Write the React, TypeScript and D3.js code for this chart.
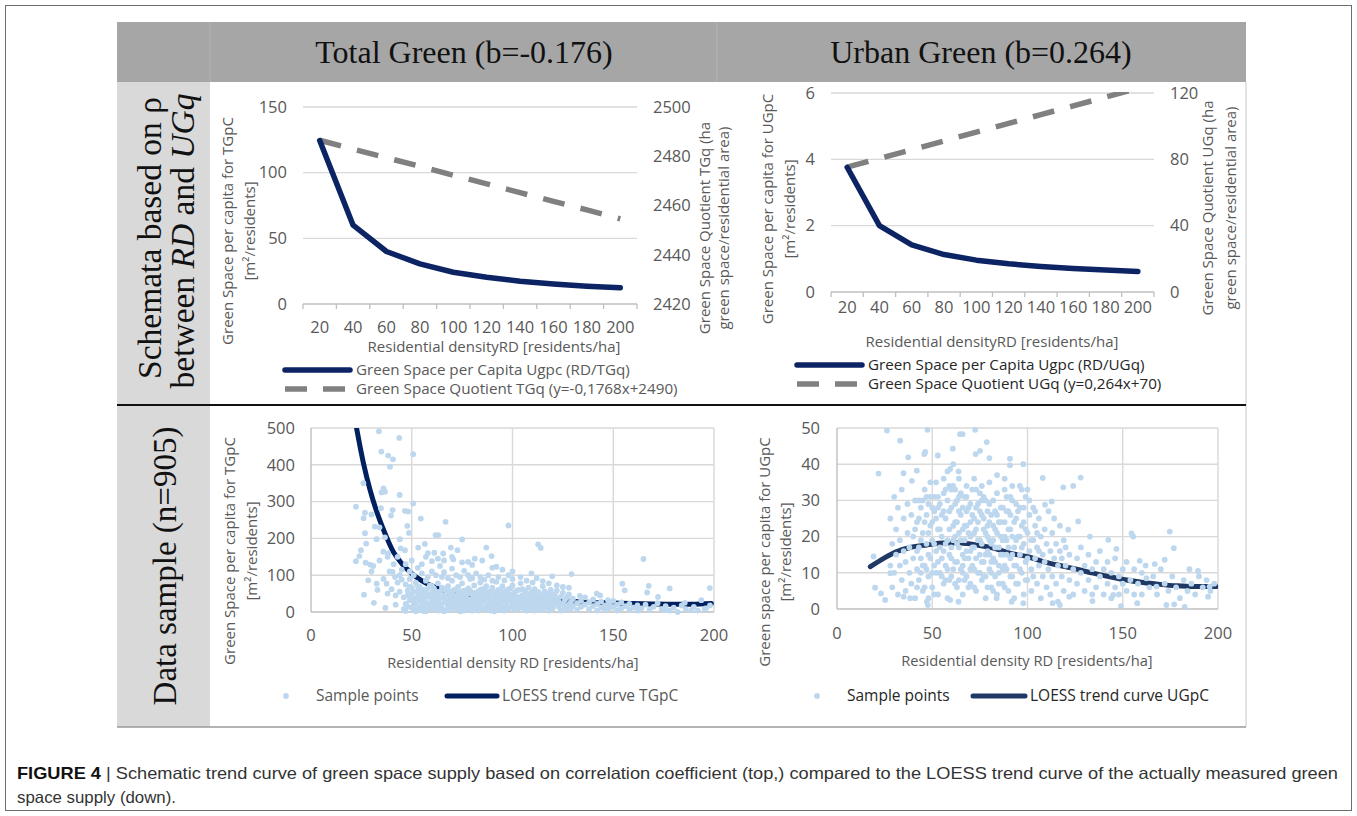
import * as d3 from 'd3';

// top row: schematic curves (category axis 20..200)
const categories = [20, 40, 60, 80, 100, 120, 140, 160, 180, 200];
const totalUgpc = [124.5, 60, 40, 30.5, 24.2, 20.3, 17.4, 15.3, 13.6, 12.4];
const totalTGq = [2486.5, 2482.9, 2479.4, 2475.9, 2472.3, 2468.8, 2465.2, 2461.7, 2458.2, 2454.6];
const urbanUgpc = [3.76, 2.0, 1.42, 1.13, 0.96, 0.85, 0.77, 0.71, 0.66, 0.62];
const urbanUGq = [75.3, 80.6, 85.8, 91.1, 96.4, 101.7, 107.0, 112.2, 117.5, 122.8];

const totalLeftTicks = [0, 50, 100, 150];
const totalRightTicks = [2420, 2440, 2460, 2480, 2500];
const urbanLeftTicks = [0, 2, 4, 6];
const urbanRightTicks = [0, 40, 80, 120];

// bottom row: LOESS curves
const tgpcLoess: [number, number][] = [
  [22.6, 500], [26, 405], [29.3, 332], [32.6, 273], [36.7, 214], [40.8, 164], [45, 132], [49.9, 105],
  [54.9, 85], [63.1, 64], [71.4, 52], [79.7, 45], [89.6, 41], [99.5, 39], [109.4, 36], [119.3, 32],
  [129.3, 29], [139.2, 26], [149, 24.5], [159, 23], [169, 22], [178.8, 21], [188.8, 21], [198.7, 23],
];
const ugpcLoess: [number, number][] = [
  [17.5, 11.7], [24.5, 14], [31.4, 15.9], [38.4, 17], [47.2, 17.7], [55.9, 18.2], [64.6, 18.2],
  [73.4, 17.7], [82.1, 16.8], [90.8, 15.4], [99.6, 14.5], [108.3, 13.1], [117, 12], [125.8, 11],
  [134.5, 9.9], [143.2, 8.9], [152, 8], [160.7, 7.3], [169.4, 6.8], [178.2, 6.4], [186.9, 6.2], [199, 6.2],
];

const tgpcSamples: [number, number][] = [
  [33.7, 491], [43.8, 473], [50.7, 429], [34.9, 436], [38.3, 425], [40.7, 415], [39.2, 395], [26, 350],
  [36, 336], [36.7, 327], [35, 325], [44, 318], [22.3, 286], [34.7, 282], [40.5, 277], [26.8, 270],
  [30, 265], [39.7, 262], [26.1, 255], [46.6, 275], [48.3, 273], [50.7, 295], [54.5, 254], [66.8, 245],
  [98, 235], [31.7, 232], [34, 230], [47.8, 234], [48.6, 215], [26.8, 214], [32.6, 198], [27.4, 186],
  [44.1, 198], [36.7, 203], [61.8, 209], [63.2, 209], [75, 197], [87, 175], [112.7, 184], [114, 174],
  [165, 144], [24.8, 168], [24, 152], [22.3, 138], [27.1, 134], [29.3, 129], [30.9, 125], [35.9, 164],
  [38.3, 159], [44.5, 173], [46.6, 168], [56.5, 185], [53.2, 175], [61.2, 161], [65.6, 159], [69.4, 175],
  [72.7, 168], [70.6, 143], [78, 136], [81.3, 145], [89.6, 152], [92, 123], [28.4, 86], [26.3, 47],
  [31.2, 25], [36.9, 11], [32.6, 77], [37.5, 77], [40.5, 109], [41.7, 95], [109.4, 105], [119.7, 97],
  [129.3, 103], [167.6, 71], [154.5, 77], [178, 64], [197.9, 65], [166.8, 53], [155.7, 59], [141.8, 50],
  [143.5, 45], [133.4, 44], [147.4, 32], [172.2, 41], [193.7, 32], [185.5, 25], [176.4, 5], [182, 0],
  [188.8, 5], [195.4, 9],
  [40, 62], [42, 45], [41, 130], [43, 80], [44, 100], [42, 20], [44, 55], [45, 88], [43, 150], [39, 110],
  [38, 50], [36, 90], [34, 140], [33, 60], [30, 110], [38, 150], [45, 115], [47, 130], [49, 110], [51, 100],
  [53, 120], [55, 105], [58, 95], [60, 110], [62, 100], [64, 125], [66, 108], [68, 92], [70, 118], [72, 100],
  [74, 95], [76, 112], [78, 100], [80, 92], [82, 105], [84, 95], [86, 88], [88, 100], [90, 85], [93, 95],
  [96, 86], [98, 100], [100, 90], [104, 95], [107, 85], [110, 80], [112, 92], [115, 84], [118, 78], [122, 72],
  [125, 68], [128, 66], [50, 140], [55, 130], [57, 150], [60, 138], [63, 145], [58, 160], [66, 140], [70, 150],
  [75, 135], [80, 128], [85, 140], [90, 120], [95, 115], [100, 110],
  [46, 8], [47, 22], [46, 40], [48, 58], [47, 75], [49, 90], [48, 15], [49, 32], [50, 48], [50, 66],
  [51, 5], [51, 25], [52, 38], [52, 80], [53, 12], [53, 55], [54, 30], [54, 68], [55, 45], [55, 18],
  [56, 3], [56, 60], [57, 28], [57, 85], [58, 10], [58, 42], [59, 72], [59, 22], [60, 52], [60, 35],
  [61, 8], [61, 64], [62, 18], [62, 45], [63, 78], [63, 30], [64, 55], [64, 12], [65, 40], [65, 95],
  [66, 25], [66, 62], [67, 5], [67, 48], [68, 33], [68, 70], [69, 15], [69, 56], [70, 38], [70, 85],
  [71, 22], [71, 60], [72, 8], [72, 44], [73, 30], [73, 68], [74, 52], [74, 16], [75, 36], [75, 78],
  [76, 4], [76, 58], [77, 26], [77, 45], [78, 12], [78, 64], [79, 34], [79, 90], [80, 20], [80, 50],
  [81, 40], [81, 72], [82, 8], [82, 30], [83, 56], [83, 18], [84, 44], [84, 80], [85, 28], [85, 62],
  [86, 10], [86, 48], [87, 36], [87, 70], [88, 20], [88, 54], [89, 4], [89, 42], [90, 30], [90, 66],
  [91, 14], [91, 52], [92, 38], [92, 82], [93, 24], [93, 60], [94, 6], [94, 46], [95, 32], [95, 70],
  [96, 16], [96, 54], [97, 40], [97, 26], [98, 8], [98, 62], [99, 34], [99, 48], [100, 18], [100, 72],
  [101, 28], [101, 52], [102, 6], [102, 40], [103, 60], [103, 20], [104, 32], [104, 78], [105, 12], [105, 46],
  [106, 26], [106, 58], [107, 38], [107, 4], [108, 18], [108, 66], [109, 30], [109, 50], [110, 10], [110, 42],
  [111, 24], [111, 62], [112, 36], [112, 14], [113, 54], [113, 28], [114, 6], [114, 44], [115, 20], [115, 70],
  [116, 34], [116, 12], [117, 50], [117, 26], [118, 40], [118, 4], [119, 18], [119, 60], [120, 30], [120, 10],
  [121, 46], [121, 22], [122, 36], [122, 58], [123, 14], [123, 28], [124, 4], [124, 42], [125, 22], [125, 52],
  [126, 12], [126, 32], [127, 40], [127, 6], [128, 20], [128, 48], [129, 28], [129, 10], [130, 36], [130, 16],
  [132, 24], [132, 6], [134, 30], [134, 14], [136, 20], [136, 40], [138, 8], [138, 26], [140, 16], [140, 34],
  [142, 4], [142, 22], [144, 12], [144, 28], [146, 18], [146, 6], [148, 24], [148, 10], [150, 14], [150, 30],
  [152, 4], [152, 20], [154, 10], [154, 26], [156, 16], [158, 6], [158, 22], [160, 12], [162, 18], [162, 4],
  [164, 10], [166, 20], [168, 6], [170, 14], [172, 24], [174, 8], [176, 16], [178, 4], [180, 12], [184, 18],
  [186, 8], [190, 14], [192, 4], [196, 10], [198, 18],
  [47, 3], [48, 45], [49, 68], [50, 12], [50, 35], [51, 55], [52, 22], [52, 2], [53, 42], [53, 70],
  [54, 6], [54, 50], [55, 32], [55, 60], [56, 14], [56, 42], [57, 52], [57, 2], [58, 20], [58, 64],
  [59, 8], [59, 46], [60, 26], [60, 70], [61, 40], [61, 16], [62, 56], [62, 30], [63, 4], [63, 50],
  [64, 22], [64, 38], [65, 10], [65, 66], [66, 44], [66, 2], [67, 30], [67, 58], [68, 18], [68, 48],
  [69, 36], [69, 6], [70, 26], [70, 54], [71, 12], [71, 42], [72, 32], [72, 62], [73, 18], [73, 50],
  [74, 2], [74, 38], [75, 24], [75, 56], [76, 14], [76, 44], [77, 34], [77, 6], [78, 28], [78, 50],
  [79, 10], [79, 58], [80, 36], [80, 4], [81, 24], [81, 52], [82, 16], [82, 44], [83, 32], [83, 4],
  [84, 20], [84, 60], [85, 8], [85, 40], [86, 30], [86, 58], [87, 16], [87, 48], [88, 6], [88, 38],
  [89, 26], [89, 56], [90, 12], [90, 44], [91, 34], [91, 2], [92, 22], [92, 54], [93, 10], [93, 40],
  [94, 28], [94, 60], [95, 14], [95, 48], [96, 4], [96, 36], [97, 22], [97, 58], [98, 30], [98, 44],
  [99, 12], [99, 64], [100, 26], [100, 40], [101, 8], [101, 46], [102, 22], [102, 58], [103, 32], [103, 10],
  [104, 42], [104, 18], [105, 28], [105, 62], [106, 6], [106, 40], [107, 22], [107, 50], [108, 32], [108, 8],
  [109, 42], [109, 16], [110, 28], [110, 56], [111, 4], [111, 38], [112, 22], [112, 48], [113, 12], [113, 40],
  [114, 30], [114, 18], [115, 8], [115, 46], [116, 24], [116, 56], [117, 14], [117, 36], [118, 28], [118, 50],
  [119, 8], [119, 38], [120, 20], [120, 48],
];

const ugpcSamples: [number, number][] = [
  [26.2, 49.3], [47.5, 49.5], [72.5, 49.5], [64.6, 48.3], [65.9, 48.3], [21.8, 37.4], [33.2, 46.5],
  [46.3, 43.4], [45.8, 42.8], [52.9, 42.4], [60.8, 44.3], [72.8, 42.8], [75.1, 43.7], [78.6, 46.1],
  [80, 41.7], [90.8, 41.5], [90.8, 39.7], [97.8, 40], [37.4, 41.9], [34.9, 37.5], [41.9, 38.2],
  [39.3, 35.4], [59.4, 38.7], [63.8, 38], [108, 36.2], [127.9, 36.3], [124, 34], [118.8, 33.6],
  [112.7, 29.7], [109.2, 28.8], [126.6, 24.2], [121.4, 21.9], [154.6, 20.9], [155.5, 20], [174.7, 21.4],
  [176.8, 16.8], [146.7, 16.6], [142.4, 19.1], [132.8, 20], [185, 11], [189.5, 10.5], [182.5, 0.6],
  [177, 1.3], [172.9, 1.1], [157.6, 1.6], [149, 0.8], [194.8, 3.4], [172, 13.6], [166.8, 12.4],
  [158.9, 13.3], [162.4, 8.5], [167.7, 6.2], [195.6, 6.2], [20, 5.9], [23.1, 4.3], [25.3, 2.5],
  [19.2, 14.5], [28, 9.9], [38.4, 3], [35, 3.4], [47.7, 1.1], [47.2, 2], [59.4, 2.5], [63.8, 2],
  [83.8, 3], [91.7, 2], [97.8, 1.6], [113.2, 1.6], [117, 1.1], [121.9, 3.4], [134.1, 2.2], [145, 3.9],
  [28, 12], [28, 25], [29, 6], [29, 18], [30, 31], [30, 10], [31, 15], [31, 22], [32, 4], [32, 28],
  [33, 12], [33, 19], [34, 8], [34, 33], [35, 16], [35, 25], [36, 5], [36, 13], [37, 21], [37, 29],
  [38, 10], [38, 17], [39, 26], [39, 7], [40, 14], [40, 20], [41, 3], [41, 30], [42, 11], [42, 24],
  [43, 17], [43, 8], [44, 28], [44, 14], [45, 5], [45, 21], [46, 33], [46, 12], [47, 18], [47, 26],
  [48, 9], [48, 15], [49, 23], [49, 31], [50, 6], [50, 19], [51, 12], [51, 27], [52, 16], [52, 35],
  [53, 4], [53, 22], [54, 10], [54, 29], [55, 14], [55, 20], [56, 7], [56, 32], [57, 18], [57, 25],
  [58, 11], [58, 3], [59, 22], [59, 15], [60, 28], [60, 9], [61, 19], [61, 34], [62, 13], [62, 24],
  [63, 6], [63, 30], [64, 17], [64, 21], [65, 11], [65, 26], [66, 4], [66, 15], [67, 31], [67, 19],
  [68, 9], [68, 23], [69, 14], [69, 28], [70, 7], [70, 20], [71, 33], [71, 12], [72, 17], [72, 25],
  [73, 5], [73, 22], [74, 29], [74, 10], [75, 15], [75, 19], [76, 26], [76, 8], [77, 13], [77, 31],
  [78, 21], [78, 3], [79, 16], [79, 27], [80, 11], [80, 24], [81, 6], [81, 18], [82, 30], [82, 14],
  [83, 9], [83, 22], [84, 26], [84, 4], [85, 17], [85, 12], [86, 28], [86, 20], [87, 7], [87, 15],
  [88, 24], [88, 33], [89, 11], [89, 19], [90, 5], [90, 27], [91, 14], [91, 22], [92, 9], [92, 30],
  [93, 17], [93, 3], [94, 25], [94, 12], [95, 20], [95, 7], [96, 15], [96, 28], [97, 10], [97, 23],
  [98, 18], [98, 4], [99, 13], [99, 31], [100, 21], [100, 8], [101, 16], [101, 26], [102, 11], [102, 5],
  [103, 19], [103, 28], [104, 14], [104, 23], [105, 7], [105, 17], [106, 12], [106, 25], [107, 3], [107, 20],
  [108, 15], [108, 9], [109, 22], [109, 13], [110, 6], [110, 18], [111, 27], [111, 11], [112, 16], [112, 4],
  [113, 21], [113, 9], [114, 14], [114, 25], [115, 7], [115, 18], [116, 12], [116, 2], [117, 16], [117, 23],
  [118, 9], [118, 14], [119, 19], [119, 5], [120, 12], [120, 17], [122, 8], [122, 15], [124, 11], [124, 4],
  [126, 14], [126, 7], [128, 10], [128, 17], [130, 5], [130, 12], [132, 15], [132, 8], [134, 4], [134, 11],
  [136, 13], [136, 6], [138, 9], [138, 16], [140, 4], [140, 11], [142, 7], [142, 13], [144, 10], [144, 3],
  [146, 6], [146, 14], [148, 9], [148, 4], [150, 11], [150, 7], [152, 5], [152, 13], [154, 8], [156, 11],
  [156, 4], [158, 7], [160, 10], [160, 4], [162, 12], [164, 6], [166, 9], [168, 4], [170, 11], [172, 7],
  [174, 5], [176, 9], [178, 6], [180, 3], [182, 8], [184, 5], [186, 7], [188, 4], [190, 9], [192, 6],
  [194, 8], [196, 5], [198, 7],
  [50, 24], [52, 10], [54, 17], [55, 26], [57, 8], [58, 30], [60, 14], [61, 23], [62, 7], [63, 18],
  [64, 27], [65, 32], [66, 10], [66, 22], [67, 14], [68, 27], [69, 6], [70, 16], [70, 24], [72, 11],
  [73, 28], [74, 19], [75, 32], [76, 13], [77, 22], [78, 9], [79, 20], [80, 29], [81, 13], [82, 23],
  [83, 17], [84, 32], [85, 7], [86, 24], [87, 19], [88, 12], [89, 27], [90, 17], [91, 31], [92, 20],
  [93, 12], [94, 29], [96, 20], [97, 33], [98, 24], [45, 30], [44, 10], [43, 25], [42, 16], [41, 22],
  [48, 29], [47, 11], [49, 35], [51, 31], [53, 28], [56, 36], [59, 34], [62, 33], [64, 36], [68, 34],
  [72, 36], [76, 34], [80, 35], [84, 37], [88, 36], [92, 34], [96, 34], [100, 33], [58, 38], [61, 40],
  [42, 6], [43, 30], [44, 19], [45, 12], [46, 24], [46, 6], [47, 31], [48, 21], [48, 3], [49, 14],
  [50, 28], [50, 10], [51, 18], [51, 4], [52, 25], [53, 13], [53, 31], [54, 22], [55, 9], [56, 16],
  [56, 27], [57, 12], [57, 33], [58, 19], [59, 8], [59, 27], [60, 17], [60, 33], [61, 11], [62, 20],
  [62, 29], [63, 13], [63, 24], [64, 8], [64, 31], [65, 19], [66, 12], [66, 28], [67, 23], [67, 8],
  [68, 16], [68, 31], [69, 21], [70, 11], [70, 29], [71, 17], [71, 26], [72, 6], [72, 21], [73, 14],
  [73, 33], [74, 24], [75, 10], [75, 27], [76, 18], [76, 30], [77, 9], [77, 25], [78, 15], [78, 30],
  [79, 6], [79, 23], [80, 15], [80, 19], [81, 26], [81, 10], [82, 19], [82, 5], [83, 27], [83, 13],
  [84, 21], [85, 10], [85, 24], [86, 15], [87, 28], [87, 11], [88, 20], [88, 6], [89, 15], [89, 31],
  [90, 22], [91, 9], [91, 26], [92, 15], [93, 24], [94, 7], [94, 19], [95, 27], [96, 11], [97, 17],
  [98, 28], [99, 8], [99, 22], [100, 14], [101, 30], [102, 19], [103, 9], [104, 27], [105, 21], [106, 16],
];

const FONT = "'Open Sans', 'DejaVu Sans', sans-serif";
const SERIF = "'Liberation Serif', 'Times New Roman', serif";
const AXIS_GREY = '#595959';
const GRID = '#d9d9d9';
const NAVY = '#0c2463';
const DASH_GREY = '#808080';
const POINT = '#bdd7ee';

type SchemaProps = {
  id: string;
  xRange: [number, number];
  yRange: [number, number];
  leftValues: number[];
  rightValues: number[];
  leftTicks: number[];
  rightTicks: number[];
  leftTitle: [string, string];
  rightTitle: [string, string];
  leftTitleX: [number, number];
  rightTitleX: [number, number];
  leftTitleY: number;
  rightTitleY: number;
  leftLabelX: number;
  rightLabelX: number;
  tickLabelY: number;
  xTitle: string;
  xTitlePos: [number, number];
  legendX: number;
  legendY: [number, number];
  legendLabels: [string, string];
  legendColor: string;
};

function SchemaChart(props: SchemaProps) {
  const x = d3.scaleBand<number>().domain(categories).range(props.xRange).padding(0);
  const yLeft = d3.scaleLinear().domain(d3.extent(props.leftTicks) as [number, number]).range(props.yRange);
  const yRight = d3.scaleLinear().domain(d3.extent(props.rightTicks) as [number, number]).range(props.yRange);
  const cx = (c: number) => (x(c) ?? 0) + x.bandwidth() / 2;

  const leftLine = d3
    .line<number>()
    .x((_, i) => cx(categories[i]))
    .y((d) => yLeft(d));
  const rightLine = d3
    .line<number>()
    .x((_, i) => cx(categories[i]))
    .y((d) => yRight(d));

  const boundaries = [...categories.map((c) => x(c) ?? 0), props.xRange[1]];
  const [y0, y1] = props.yRange;

  return (
    <g fontFamily={FONT}>
      <defs>
        <clipPath id={props.id}>
          <rect x={props.xRange[0]} y={y1 - 1} width={props.xRange[1] - props.xRange[0]} height={y0 - y1 + 10} />
        </clipPath>
      </defs>
      {props.leftTicks.slice(1).map((t) => (
        <line key={t} x1={props.xRange[0]} x2={props.xRange[1]} y1={yLeft(t)} y2={yLeft(t)} stroke={GRID} strokeWidth={1.3} />
      ))}
      <line x1={props.xRange[0]} x2={props.xRange[1]} y1={y0} y2={y0} stroke="#bfbfbf" strokeWidth={1.3} />
      {boundaries.map((b, i) => (
        <line key={i} x1={b} x2={b} y1={y0} y2={y0 + 5} stroke="#bfbfbf" strokeWidth={1.3} />
      ))}
      {props.leftTicks.map((t) => (
        <text key={t} x={props.leftLabelX} y={yLeft(t)} dy="0.35em" textAnchor="end" fontSize={16.5} fill={AXIS_GREY}>
          {t}
        </text>
      ))}
      {props.rightTicks.map((t) => (
        <text key={t} x={props.rightLabelX} y={yRight(t)} dy="0.35em" fontSize={16.5} fill={AXIS_GREY}>
          {t}
        </text>
      ))}
      {categories.map((c) => (
        <text key={c} x={cx(c)} y={props.tickLabelY} dy="0.35em" textAnchor="middle" fontSize={16.5} fill={AXIS_GREY}>
          {c}
        </text>
      ))}
      <text x={props.xTitlePos[0]} y={props.xTitlePos[1]} dy="0.35em" textAnchor="middle" fontSize={15} fill={AXIS_GREY}>
        {props.xTitle}
      </text>
      {props.leftTitle.map((t, i) => (
        <text
          key={t}
          transform={`translate(${props.leftTitleX[i]},${props.leftTitleY}) rotate(-90)`}
          dy="0.35em"
          textAnchor="middle"
          fontSize={15}
          fill={AXIS_GREY}
        >
          {t}
        </text>
      ))}
      {props.rightTitle.map((t, i) => (
        <text
          key={t}
          transform={`translate(${props.rightTitleX[i]},${props.rightTitleY}) rotate(-90)`}
          dy="0.35em"
          textAnchor="middle"
          fontSize={15}
          fill={AXIS_GREY}
        >
          {t}
        </text>
      ))}
      <g clipPath={`url(#${props.id})`}>
        <path d={rightLine(props.rightValues) ?? ''} fill="none" stroke={DASH_GREY} strokeWidth={5.5} strokeDasharray="22 16.5" />
      </g>
      <path d={leftLine(props.leftValues) ?? ''} fill="none" stroke={NAVY} strokeWidth={5.5} strokeLinejoin="round" strokeLinecap="round" />

      {/* legend */}
      <line x1={props.legendX} x2={props.legendX + 65} y1={props.legendY[0]} y2={props.legendY[0]} stroke={NAVY} strokeWidth={5.5} strokeLinecap="round" />
      <text x={props.legendX + 71} y={props.legendY[0]} dy="0.35em" fontSize={15.2} fill={props.legendColor}>
        {props.legendLabels[0]}
      </text>
      <line x1={props.legendX} x2={props.legendX + 60} y1={props.legendY[1]} y2={props.legendY[1]} stroke={DASH_GREY} strokeWidth={5.5} strokeDasharray="22 16" />
      <text x={props.legendX + 71} y={props.legendY[1]} dy="0.35em" fontSize={15.2} fill={props.legendColor}>
        {props.legendLabels[1]}
      </text>
    </g>
  );
}

type ScatterProps = {
  id: string;
  xRange: [number, number];
  yRange: [number, number];
  yMax: number;
  yStep: number;
  samples: [number, number][];
  loess: [number, number][];
  loessColor: string;
  yLabelX: number;
  xLabelY: number;
  xTitlePos: [number, number];
  yTitle: [string, string];
  yTitleX: [number, number];
  yTitleY: number;
  legendY: number;
  dotX: number;
  lineX: [number, number];
  loessLabel: string;
  legendColor: string;
};

function ScatterChart(props: ScatterProps) {
  const x = d3.scaleLinear().domain([0, 200]).range(props.xRange);
  const y = d3.scaleLinear().domain([0, props.yMax]).range(props.yRange);
  const xTicks = d3.range(0, 201, 50);
  const yTicks = d3.range(0, props.yMax + 1, props.yStep);
  const loessLine = d3
    .line<[number, number]>()
    .x((d) => x(d[0]))
    .y((d) => y(d[1]))
    .curve(d3.curveMonotoneX);
  const [x0, x1] = props.xRange;
  const [y0, y1] = props.yRange;

  return (
    <g fontFamily={FONT}>
      {xTicks.slice(1).map((t) => (
        <line key={t} x1={x(t)} x2={x(t)} y1={y0} y2={y1} stroke={GRID} strokeWidth={1.4} />
      ))}
      {yTicks.slice(1).map((t) => (
        <line key={t} x1={x0} x2={x1} y1={y(t)} y2={y(t)} stroke={GRID} strokeWidth={1.4} />
      ))}
      <line x1={x0} x2={x1} y1={y0} y2={y0} stroke="#bfbfbf" strokeWidth={1.4} />
      <line x1={x0} x2={x0} y1={y0} y2={y1} stroke="#bfbfbf" strokeWidth={1.4} />
      {yTicks.map((t) => (
        <text key={t} x={props.yLabelX} y={y(t)} dy="0.35em" textAnchor="end" fontSize={16.5} fill={AXIS_GREY}>
          {t}
        </text>
      ))}
      {xTicks.map((t) => (
        <text key={t} x={x(t)} y={props.xLabelY} dy="0.35em" textAnchor="middle" fontSize={16.5} fill={AXIS_GREY}>
          {t}
        </text>
      ))}
      <text x={props.xTitlePos[0]} y={props.xTitlePos[1]} dy="0.35em" textAnchor="middle" fontSize={14.7} fill={AXIS_GREY}>
        Residential density RD [residents/ha]
      </text>
      {props.yTitle.map((t, i) => (
        <text
          key={t}
          transform={`translate(${props.yTitleX[i]},${props.yTitleY}) rotate(-90)`}
          dy="0.35em"
          textAnchor="middle"
          fontSize={15}
          fill={AXIS_GREY}
        >
          {t}
        </text>
      ))}
      <defs>
        <clipPath id={props.id}>
          <rect x={x0} y={y1} width={x1 - x0} height={y0 - y1} />
        </clipPath>
      </defs>
      <g clipPath={`url(#${props.id})`}>
        <path d={loessLine(props.loess) ?? ''} fill="none" stroke={props.loessColor} strokeWidth={5} strokeLinecap="round" />
      </g>
      {props.samples.map((d, i) => (
        <circle key={i} cx={x(d[0])} cy={y(d[1])} r={2.9} fill={POINT} />
      ))}

      {/* legend */}
      <circle cx={props.dotX} cy={props.legendY} r={2.9} fill={POINT} />
      <text x={props.dotX + 30} y={props.legendY} dy="0.35em" fontSize={15.5} fill={props.legendColor}>
        Sample points
      </text>
      <line x1={props.lineX[0]} x2={props.lineX[1]} y1={props.legendY} y2={props.legendY} stroke={props.loessColor} strokeWidth={5} strokeLinecap="round" />
      <text x={props.lineX[1] + 5} y={props.legendY} dy="0.35em" fontSize={15.5} fill={props.legendColor}>
        {props.loessLabel}
      </text>
    </g>
  );
}

export default function App() {
  return (
    <svg width={1357} height={816} style={{ position: 'absolute', left: 0, top: 0, background: '#fff' }}>
      <rect x={5.5} y={5.5} width={1346} height={805} fill="#fff" stroke="#6d6d6d" strokeWidth={1} />

      {/* table frame */}
      <rect x={117} y={22} width={1129} height={60} fill="#a6a6a6" />
      <line x1={210} x2={210} y1={22} y2={82} stroke="#b4b4b4" strokeWidth={1} />
      <line x1={717} x2={717} y1={22} y2={82} stroke="#b4b4b4" strokeWidth={1} />
      <rect x={117} y={82} width={93} height={645} fill="#d9d9d9" />
      <line x1={1246} x2={1246} y1={82} y2={727} stroke="#c8c8c8" strokeWidth={1} />
      <line x1={117} x2={1246} y1={727} y2={727} stroke="#9a9a9a" strokeWidth={1.5} />
      <line x1={117} x2={1246} y1={405} y2={405} stroke="#111" strokeWidth={2} />

      <text x={464} y={52} dy="0.35em" textAnchor="middle" fontFamily={SERIF} fontSize={32} fill="#111">
        Total Green (b=-0.176)
      </text>
      <text x={981} y={52} dy="0.35em" textAnchor="middle" fontFamily={SERIF} fontSize={32} fill="#111">
        Urban Green (b=0.264)
      </text>
      <text transform="translate(149,238) rotate(-90)" dy="0.35em" textAnchor="middle" fontFamily={SERIF} fontSize={33.5} fill="#111">
        Schemata based on ρ
      </text>
      <text transform="translate(182,241) rotate(-90)" dy="0.35em" textAnchor="middle" fontFamily={SERIF} fontSize={33.5} fill="#111">
        between <tspan fontStyle="italic">RD</tspan> and <tspan fontStyle="italic">UGq</tspan>
      </text>
      <text transform="translate(164,566) rotate(-90)" dy="0.35em" textAnchor="middle" fontFamily={SERIF} fontSize={33} fill="#111">
        Data sample (n=905)
      </text>

      <SchemaChart
        id="clip-total"
        xRange={[303, 637]}
        yRange={[304, 107]}
        leftValues={totalUgpc}
        rightValues={totalTGq}
        leftTicks={totalLeftTicks}
        rightTicks={totalRightTicks}
        leftTitle={['Green Space per capita for TGpC', '[m²/residents]']}
        rightTitle={['Green Space Quotient TGq (ha', 'green space/residential area)']}
        leftTitleX={[228, 250]}
        rightTitleX={[705, 724]}
        leftTitleY={231}
        rightTitleY={228}
        leftLabelX={287}
        rightLabelX={653}
        tickLabelY={327}
        xTitle="Residential densityRD [residents/ha]"
        xTitlePos={[494, 347]}
        legendX={285}
        legendY={[370, 389]}
        legendLabels={['Green Space per Capita Ugpc (RD/TGq)', 'Green Space Quotient TGq (y=-0,1768x+2490)']}
        legendColor={AXIS_GREY}
      />
      <SchemaChart
        id="clip-urban"
        xRange={[831, 1154]}
        yRange={[292, 93]}
        leftValues={urbanUgpc}
        rightValues={urbanUGq}
        leftTicks={urbanLeftTicks}
        rightTicks={urbanRightTicks}
        leftTitle={['Green Space per capita for UGpC', '[m²/residents]']}
        rightTitle={['Green Space Quotient UGq (ha', 'green space/residential area)']}
        leftTitleX={[768, 790]}
        rightTitleX={[1208, 1231]}
        leftTitleY={209}
        rightTitleY={208}
        leftLabelX={815}
        rightLabelX={1170}
        tickLabelY={307}
        xTitle="Residential densityRD [residents/ha]"
        xTitlePos={[992, 342]}
        legendX={797}
        legendY={[365, 384]}
        legendLabels={['Green Space per Capita Ugpc (RD/UGq)', 'Green Space Quotient UGq (y=0,264x+70)']}
        legendColor="#262626"
      />

      <ScatterChart
        id="clip-tgpc"
        xRange={[311, 714]}
        yRange={[612, 428]}
        yMax={500}
        yStep={100}
        samples={tgpcSamples}
        loess={tgpcLoess}
        loessColor="#002060"
        yLabelX={295}
        xLabelY={635}
        xTitlePos={[513, 663]}
        yTitle={['Green Space per capita for TGpC', '[m²/residents]']}
        yTitleX={[230, 252]}
        yTitleY={551}
        legendY={696}
        dotX={286}
        lineX={[447, 497]}
        loessLabel="LOESS trend curve TGpC"
        legendColor={AXIS_GREY}
      />
      <ScatterChart
        id="clip-ugpc"
        xRange={[837, 1218]}
        yRange={[609, 428]}
        yMax={50}
        yStep={10}
        samples={ugpcSamples}
        loess={ugpcLoess}
        loessColor="#1f3864"
        yLabelX={820}
        xLabelY={633}
        xTitlePos={[1027, 661]}
        yTitle={['Green space per capita for UGpC', '[m²/residents]']}
        yTitleX={[765, 786]}
        yTitleY={552}
        legendY={696}
        dotX={817}
        lineX={[973, 1025]}
        loessLabel="LOESS trend curve UGpC"
        legendColor="#262626"
      />

      {/* caption */}
      <text
        x={17}
        y={779}
        fontFamily="'Liberation Sans Narrow', 'Liberation Sans', Arial, sans-serif"
        fontSize={16.5}
        fill="#333"
        textLength={1321}
        lengthAdjust="spacingAndGlyphs"
      >
        <tspan fontWeight="bold" fill="#111">FIGURE 4</tspan> | Schematic trend curve of green space supply based on correlation coefficient (top,) compared to the LOESS trend curve of the actually measured green
      </text>
      <text
        x={17}
        y={803}
        fontFamily="'Liberation Sans Narrow', 'Liberation Sans', Arial, sans-serif"
        fontSize={16.5}
        fill="#333"
        textLength={159}
        lengthAdjust="spacingAndGlyphs"
      >
        space supply (down).
      </text>
    </svg>
  );
}
